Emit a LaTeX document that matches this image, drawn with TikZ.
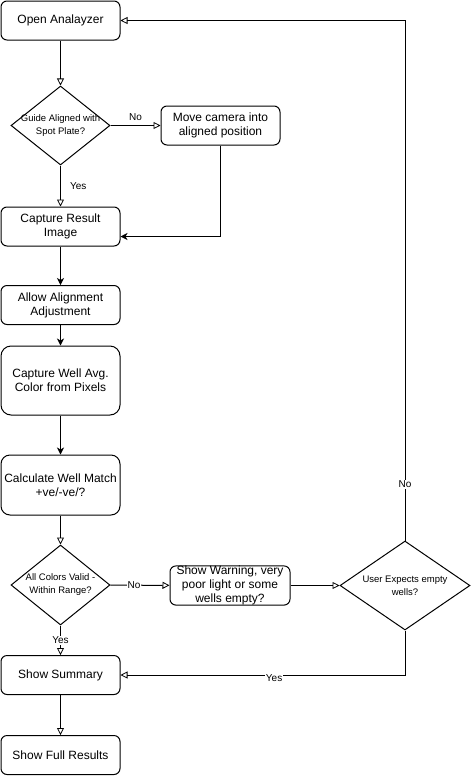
\documentclass[tikz,border=0pt]{standalone}
\usepackage{fontspec}
\setmainfont{Liberation Sans}
\usetikzlibrary{shapes, arrows.meta, positioning, calc}

\begin{document}
\begin{tikzpicture}[x=1pt, y=-1pt, line width=1pt,
    stepbox/.style={draw, rounded corners=6pt, minimum width=119pt, minimum height=39pt,
      inner sep=1pt, align=center, font=\fontsize{12}{14}\selectfont},
    decision/.style={draw, diamond, inner sep=0pt, shape aspect=1},
    dtext/.style={align=center, font=\fontsize{9.5}{13}\selectfont},
    lbl/.style={font=\fontsize{10}{12}\selectfont, fill=white, inner sep=1pt},
    openarr/.style={-{Triangle[open, length=7pt, width=7pt, line width=0.8pt]}},
    fullarr/.style={-{Stealth[length=7pt, width=7pt, inset=2pt]}}]
      \useasboundingbox (0,0) rectangle (472,777);

      % left column
      \node[stepbox] (open) at (60.5,20.5) {Open Analayzer};
      \node[decision, minimum width=99pt, minimum height=79pt,
        label={[dtext]center:Guide Aligned with\\Spot Plate?}] (guide) at (60.5,125.5) {};
      \node[stepbox] (capture) at (60.5,226.5) {Capture Result\\Image};
      \node[stepbox] (allow) at (60.5,305) {Allow Alignment\\Adjustment};
      \node[stepbox, minimum height=69pt, rounded corners=10pt] (avg) at (60.5,380.5) {Capture Well Avg.\\Color from Pixels};
      \node[stepbox, minimum height=60pt, rounded corners=9pt] (match) at (60.5,485) {Calculate Well Match\\+ve/-ve/?};
      \node[decision, minimum width=99pt, minimum height=80pt,
        label={[dtext]center:All Colors Valid -\\Within Range?}] (valid) at (60.5,585) {};
      \node[stepbox] (summary) at (60.5,675) {Show Summary};
      \node[stepbox] (full) at (60.5,755) {Show Full Results};

      % right side
      \node[stepbox] (move) at (220.5,125.5) {Move camera into\\aligned position};
      \node[stepbox, minimum width=120pt, inner sep=0pt] (warn) at (230,585.5) {Show Warning, very\\poor light or some\\wells empty?};
      \node[decision, minimum width=130pt, minimum height=89pt,
        label={[dtext]center:User Expects empty\\wells?}] (expect) at (405,585.5) {};

      \draw[openarr] (open) -- (guide);
      \draw[openarr] (guide) -- node[lbl, right=8pt] {Yes} (capture);
      \draw[openarr] (guide) -- node[lbl, above=3pt] {No} (move);
      \draw[fullarr] (move.south) |- ([yshift=-10pt]capture.east);
      \draw[fullarr] (capture) -- (allow);
      \draw[fullarr] (allow) -- (avg);
      \draw[fullarr] (avg) -- (match);
      \draw[openarr] (match) -- (valid);
      \draw[openarr] (valid) -- node[lbl, pos=0.4] {No} (warn);
      \draw[openarr] (warn) -- (expect);
      \draw[openarr] (valid) -- node[lbl] {Yes} (summary);
      \draw[openarr] (expect.south) |- node[lbl, pos=0.73, yshift=-3pt] {Yes} (summary.east);
      \draw[openarr] (expect.north) |- node[lbl, pos=0.054] {No} (open.east);
      \draw[openarr] (summary) -- (full);
    \end{tikzpicture}
\end{document}
